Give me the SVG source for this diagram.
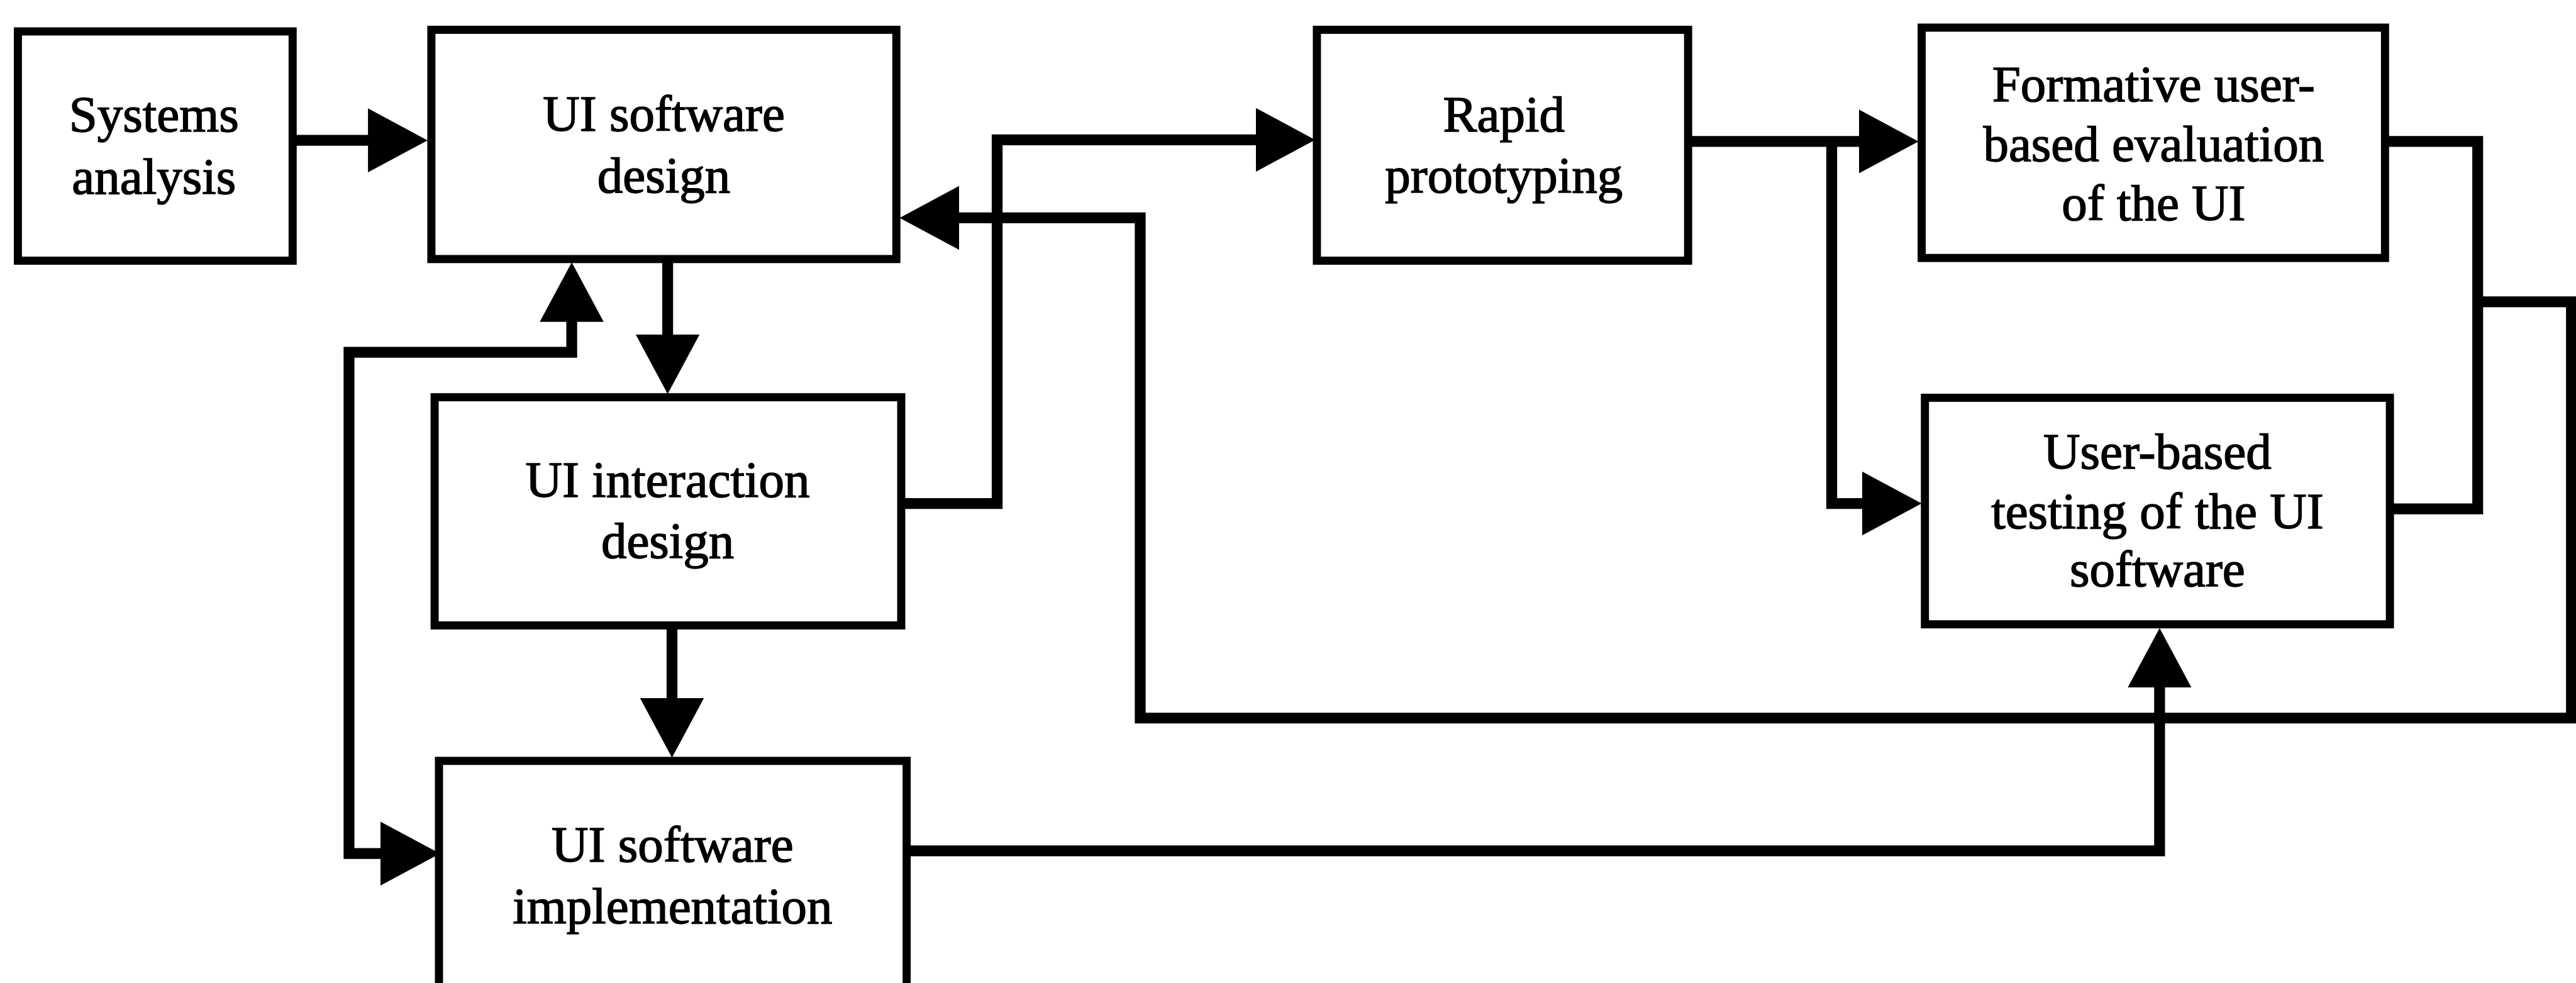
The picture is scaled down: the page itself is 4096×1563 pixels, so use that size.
<svg xmlns="http://www.w3.org/2000/svg" width="4096" height="1563" viewBox="0 0 4096 1563">
<style>
.box{fill:#fff;stroke:#000;stroke-width:15;stroke-linejoin:miter}
.lbl{font-family:"Liberation Serif","Times New Roman",serif;font-size:94px;fill:#000;stroke:#000;stroke-width:1.8;text-anchor:middle}
.con{fill:none;stroke:#000;stroke-width:20;stroke-linejoin:miter;stroke-linecap:butt}
.arr{marker-end:url(#ah)}
</style>
<defs>
<marker id="ah" viewBox="0 0 110 118" markerWidth="110" markerHeight="118" refX="50" refY="59" orient="auto-start-reverse" markerUnits="userSpaceOnUse">
<path d="M0,0 L110,59 L0,118 Z" fill="#000"/>
</marker>
</defs>
<rect width="4096" height="1563" fill="#fff"/>
<g transform="scale(0.8617)">
<g id="connectors">
<path class="con arr" d="M540,259 H729"/>
<path class="con arr" d="M1232,478 V667"/>
<path class="con arr" d="M1240,1154 V1338"/>
<path class="con arr" d="M1663,929 H1840 V258 H2367"/>
<path class="con arr" d="M4572,557 H4745 V1325 H2104 V402 H1720"/>
<path class="con" d="M4401,261 H4572 V939 H4410"/>
<path class="con arr" d="M3115,261 H3480"/>
<path class="con arr" d="M3380,261 V929 H3486"/>
<path class="con arr" d="M1673,1570 H3985 V1219"/>
<path class="con arr" style="marker-start:url(#ah)" d="M1055,544 V650 H644 V1575 H752"/>
</g>
<g id="systems-analysis">
<rect class="box" x="33" y="58" width="507" height="423"/>
<text class="lbl" x="284" y="243">Systems</text>
<text class="lbl" x="284" y="357">analysis</text>
</g>
<g id="ui-software-design">
<rect class="box" x="796" y="55" width="858" height="423"/>
<text class="lbl" x="1225" y="241">UI software</text>
<text class="lbl" x="1225" y="355">design</text>
</g>
<g id="rapid-prototyping">
<rect class="box" x="2430" y="55" width="685" height="426"/>
<text class="lbl" x="2775" y="243">Rapid</text>
<text class="lbl" x="2775" y="355">prototyping</text>
</g>
<g id="formative-evaluation">
<rect class="box" x="3546" y="51" width="855" height="425"/>
<text class="lbl" x="3974" y="187">Formative user-</text>
<text class="lbl" x="3974" y="297">based evaluation</text>
<text class="lbl" x="3974" y="406">of the UI</text>
</g>
<g id="ui-interaction-design">
<rect class="box" x="802" y="733" width="861" height="421"/>
<text class="lbl" x="1232" y="917">UI interaction</text>
<text class="lbl" x="1232" y="1029">design</text>
</g>
<g id="ui-software-implementation">
<rect class="box" x="810" y="1404" width="863" height="520"/>
<text class="lbl" x="1241" y="1590">UI software</text>
<text class="lbl" x="1241" y="1704">implementation</text>
</g>
<g id="user-based-testing">
<rect class="box" x="3552" y="734" width="858" height="418"/>
<text class="lbl" x="3981" y="865">User-based</text>
<text class="lbl" x="3981" y="975">testing of the UI</text>
<text class="lbl" x="3981" y="1082">software</text>
</g>
</g>
</svg>
